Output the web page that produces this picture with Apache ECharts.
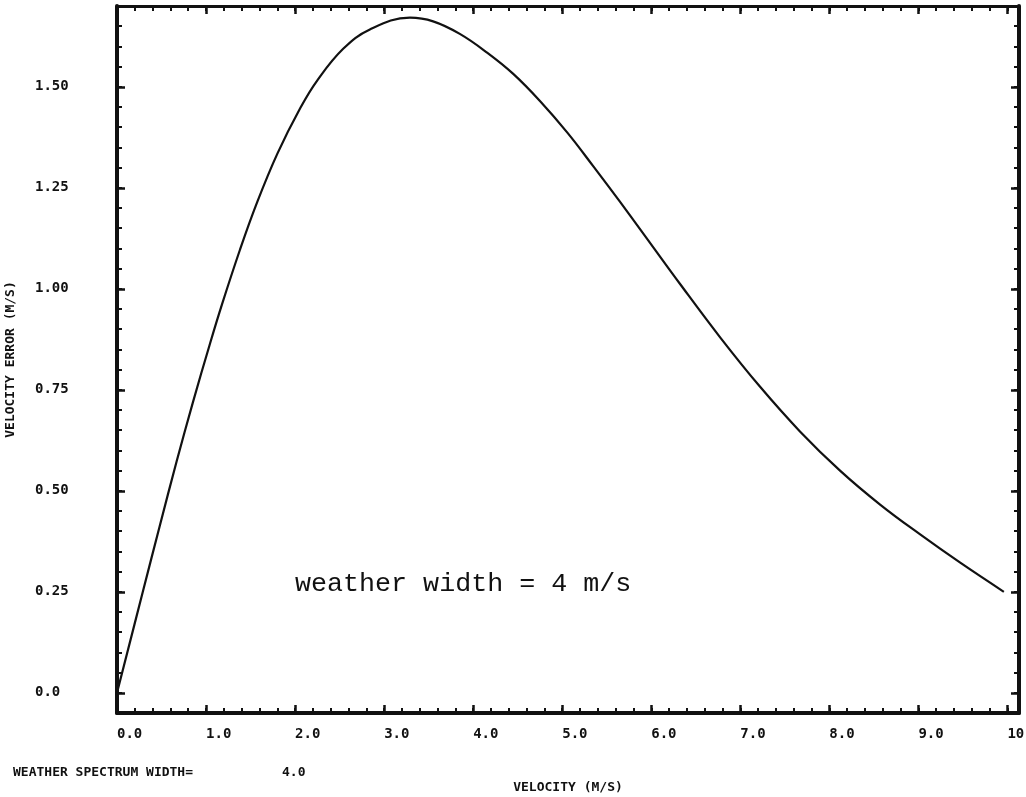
<!DOCTYPE html>
<html>
<head>
<meta charset="utf-8">
<title>Velocity error vs velocity</title>
<script src="https://cdn.jsdelivr.net/npm/echarts@6/dist/echarts.min.js"></script>
<style>
  html, body { margin: 0; padding: 0; background: #fff; }
  #chart { width: 1026px; height: 797px; }
</style>
</head>
<body>
<div id="chart"></div>
<script>
// values (velocity m/s -> velocity error m/s)
var velocity = [0, 0.29, 0.48, 0.67, 0.85, 1.04, 1.18, 1.38, 1.57, 1.80, 2.06, 2.25, 2.54, 2.84,
  3.29, 3.55, 3.85, 4.16, 4.45, 4.75, 5.06, 5.35, 5.65, 5.88, 6.33, 6.78, 7.22, 7.67, 8.12,
  8.57, 9.02, 9.47, 9.96];
var velError = [0, 0.25, 0.413, 0.573, 0.717, 0.861, 0.962, 1.096, 1.212, 1.334, 1.448, 1.516, 1.594, 1.642,
  1.671, 1.662, 1.631, 1.584, 1.532, 1.465, 1.386, 1.303, 1.215, 1.146, 1.01, 0.878, 0.758, 0.647, 0.55,
  0.466, 0.392, 0.322, 0.25];

var xTickValues = [0, 1, 2, 3, 4, 5, 6, 7, 8, 9, 10];
var xTickLabels = ['0.0', '1.0', '2.0', '3.0', '4.0', '5.0', '6.0', '7.0', '8.0', '9.0', '10.0'];
var yTickValues = [0, 0.25, 0.5, 0.75, 1.0, 1.25, 1.5];
var yTickLabels = ['0.0', '0.25', '0.50', '0.75', '1.00', '1.25', '1.50'];

var xMin = 0, xMax = 10.13;
var yMin = -0.05, yMax = 1.70;

var ink = '#111';
var mono = '"DejaVu Sans Mono", monospace';

function pairs(xs, ys) {
  var out = [];
  for (var i = 0; i < xs.length; i++) out.push([xs[i], ys[i]]);
  return out;
}

var chart = echarts.init(document.getElementById('chart'));

// base settings shared by every axis
function baseAxis(extra) {
  var a = {
    type: 'value',
    axisLine: { show: false, onZero: false },
    splitLine: { show: false },
    axisLabel: { show: false },
    axisTick: { show: true, inside: true, length: 5, lineStyle: { color: ink, width: 2 } }
  };
  return Object.assign(a, extra);
}

var option = {
  animation: false,
  backgroundColor: '#fff',
  grid: { left: 117, right: 7, top: 6, bottom: 84, containLabel: false, outerBoundsMode: 'none' },
  xAxis: [
    // bottom: minor ticks, labels, axis line
    baseAxis({
      position: 'bottom', min: xMin, max: xMax, interval: 0.2,
      axisLine: { show: true, onZero: false, lineStyle: { color: ink, width: 4 } },
      axisLabel: {
        show: true, customValues: xTickValues, align: 'left', margin: 14,
        color: ink, fontFamily: mono, fontWeight: 'bold', fontSize: 14,
        formatter: function (v) { return xTickLabels[xTickValues.indexOf(Math.round(v))]; }
      },
      name: 'VELOCITY (M/S)', nameLocation: 'middle', nameGap: 68,
      nameTextStyle: { color: ink, fontFamily: mono, fontWeight: 'bold', fontSize: 13 }
    }),
    // bottom: major ticks
    baseAxis({
      position: 'bottom', min: xMin, max: xMax,
      axisTick: { show: true, inside: true, length: 8, customValues: xTickValues, lineStyle: { color: ink, width: 2.5 } }
    }),
    // top: minor ticks + line
    baseAxis({
      position: 'top', min: xMin, max: xMax, interval: 0.2,
      axisLine: { show: true, onZero: false, lineStyle: { color: ink, width: 3 } }
    }),
    // top: major ticks
    baseAxis({
      position: 'top', min: xMin, max: xMax,
      axisTick: { show: true, inside: true, length: 8, customValues: xTickValues, lineStyle: { color: ink, width: 2.5 } }
    })
  ],
  yAxis: [
    baseAxis({
      position: 'left', min: yMin, max: yMax, interval: 0.05,
      axisLine: { show: true, onZero: false, lineStyle: { color: ink, width: 4 } },
      axisLabel: {
        show: true, customValues: yTickValues, align: 'left', margin: 82,
        color: ink, fontFamily: mono, fontWeight: 'bold', fontSize: 14,
        formatter: function (v) {
          var i = yTickValues.indexOf(Math.round(v * 100) / 100);
          return i < 0 ? '' : yTickLabels[i];
        }
      },
      name: 'VELOCITY ERROR (M/S)', nameLocation: 'middle', nameGap: 100, nameRotate: 90,
      nameTextStyle: { color: ink, fontFamily: mono, fontWeight: 'bold', fontSize: 13 }
    }),
    baseAxis({
      position: 'left', min: yMin, max: yMax,
      axisTick: { show: true, inside: true, length: 8, customValues: yTickValues, lineStyle: { color: ink, width: 2.5 } }
    }),
    baseAxis({
      position: 'right', min: yMin, max: yMax, interval: 0.05,
      axisLine: { show: true, onZero: false, lineStyle: { color: ink, width: 4 } }
    }),
    baseAxis({
      position: 'right', min: yMin, max: yMax,
      axisTick: { show: true, inside: true, length: 8, customValues: yTickValues, lineStyle: { color: ink, width: 2.5 } }
    })
  ],
  series: [
    {
      name: 'velocity error',
      type: 'line',
      xAxisIndex: 0,
      yAxisIndex: 0,
      data: pairs(velocity, velError),
      smooth: 0.4,
      showSymbol: false,
      lineStyle: { color: ink, width: 2.2 }
    }
  ],
  graphic: [
    {
      type: 'text', left: 295, top: 570,
      style: { text: 'weather width = 4 m/s', font: '26.7px "Liberation Mono", "Courier New", monospace', fill: ink }
    },
    {
      type: 'text', left: 13, top: 766,
      style: { text: 'WEATHER SPECTRUM WIDTH=', font: 'bold 13px "DejaVu Sans Mono", monospace', fill: ink }
    },
    {
      type: 'text', left: 282, top: 766,
      style: { text: '4.0', font: 'bold 13px "DejaVu Sans Mono", monospace', fill: ink }
    }
  ]
};

chart.setOption(option);
</script>
</body>
</html>
